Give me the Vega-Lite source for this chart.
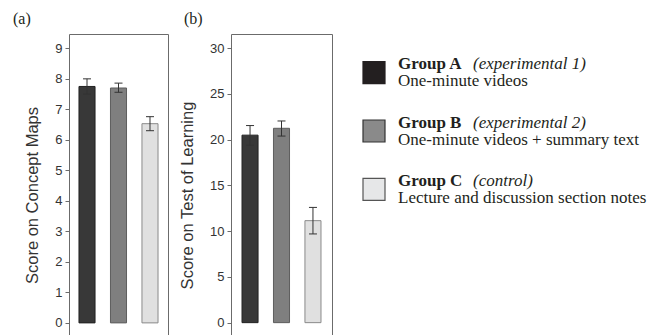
{
  "$schema": "https://vega.github.io/schema/vega-lite/v6.json",
  "padding": {"left": 12, "top": 10, "right": 5, "bottom": 0},
  "background": "white",
  "config": {
    "view": {"stroke": "#6b6b6b", "strokeWidth": 1},
    "axis": {
      "grid": false,
      "domain": false,
      "tickColor": "#6b6b6b",
      "tickSize": 4,
      "labelFont": "Liberation Sans",
      "labelFontSize": 13,
      "labelColor": "#333333",
      "labelPadding": 3,
      "titleFont": "Liberation Sans",
      "titleFontSize": 16.5,
      "titleFontWeight": "normal",
      "titleColor": "#333333"
    },
    "title": {
      "font": "Liberation Serif",
      "fontSize": 16,
      "fontWeight": "normal",
      "color": "#231f20",
      "anchor": "start",
      "frame": "group",
      "baseline": "alphabetic",
      "offset": 7
    }
  },
  "datasets": {
    "concept": [
      {"group": "A", "mean": 7.75, "lower": 7.5, "upper": 8.0},
      {"group": "B", "mean": 7.7, "lower": 7.56, "upper": 7.86},
      {"group": "C", "mean": 6.53, "lower": 6.3, "upper": 6.76}
    ],
    "test": [
      {"group": "A", "mean": 20.5, "lower": 19.4, "upper": 21.55},
      {"group": "B", "mean": 21.25, "lower": 20.4, "upper": 22.05},
      {"group": "C", "mean": 11.15, "lower": 9.7, "upper": 12.6}
    ],
    "groups": [
      {"group": "A", "name": "Group A", "cond": "(experimental 1)", "desc": "One-minute videos"},
      {"group": "B", "name": "Group B", "cond": "(experimental 2)", "desc": "One-minute videos + summary text"},
      {"group": "C", "name": "Group C", "cond": "(control)", "desc": "Lecture and discussion section notes"}
    ]
  },
  "bounds": "full",
  "spacing": 27,
  "resolve": {"scale": {"fill": "independent", "stroke": "independent"}},
  "hconcat": [
    {
      "bounds": "flush",
      "spacing": 63,
      "resolve": {"scale": {"fill": "independent", "stroke": "independent"}},
      "hconcat": [
        {
          "width": 99,
          "height": 302,
          "title": {"text": "(a)", "dx": -56},
          "data": {"name": "concept"},
          "encoding": {
            "x": {"field": "group", "type": "nominal", "axis": null, "scale": {"paddingInner": 0.49, "paddingOuter": 0.317}}
          },
          "layer": [
            {
              "mark": {"type": "bar", "strokeWidth": 1},
              "encoding": {
                "y": {"field": "mean", "type": "quantitative", "scale": {"domain": [-0.43, 9.47], "nice": false, "zero": false}, "axis": {"values": [0, 1, 2, 3, 4, 5, 6, 7, 8, 9], "title": "Score on Concept Maps", "titlePadding": 14, "titleY": 161}},
                "y2": {"datum": 0},
                "fill": {"field": "group", "type": "nominal", "scale": {"domain": ["A", "B", "C"], "range": ["#383838", "#7f7f7f", "#e0e0e0"]}, "legend": null},
                "stroke": {"field": "group", "type": "nominal", "scale": {"domain": ["A", "B", "C"], "range": ["#222222", "#5e5e5e", "#8a8a8a"]}, "legend": null}
              }
            },
            {
              "mark": {"type": "rule", "color": "#333333", "strokeWidth": 1},
              "encoding": {"y": {"field": "lower", "type": "quantitative", "axis": {"values": [0, 1, 2, 3, 4, 5, 6, 7, 8, 9], "title": "Score on Concept Maps", "titlePadding": 14, "titleY": 161}}, "y2": {"field": "upper"}}
            },
            {
              "mark": {"type": "tick", "color": "#333333", "size": 8, "thickness": 1, "opacity": 1},
              "encoding": {"y": {"field": "lower", "type": "quantitative", "axis": {"values": [0, 1, 2, 3, 4, 5, 6, 7, 8, 9], "title": "Score on Concept Maps", "titlePadding": 14, "titleY": 161}}}
            },
            {
              "mark": {"type": "tick", "color": "#333333", "size": 8, "thickness": 1, "opacity": 1},
              "encoding": {"y": {"field": "upper", "type": "quantitative", "axis": {"values": [0, 1, 2, 3, 4, 5, 6, 7, 8, 9], "title": "Score on Concept Maps", "titlePadding": 14, "titleY": 161}}}
            }
          ]
        },
        {
          "width": 101,
          "height": 302,
          "title": {"text": "(b)", "dx": -47},
          "data": {"name": "test"},
          "encoding": {
            "x": {"field": "group", "type": "nominal", "axis": null, "scale": {"paddingInner": 0.49, "paddingOuter": 0.35}}
          },
          "layer": [
            {
              "mark": {"type": "bar", "strokeWidth": 1},
              "encoding": {
                "y": {"field": "mean", "type": "quantitative", "scale": {"domain": [-1.46, 31.56], "nice": false, "zero": false}, "axis": {"values": [0, 5, 10, 15, 20, 25, 30], "title": "Score on Test of Learning", "titlePadding": 14, "titleY": 161}},
                "y2": {"datum": 0},
                "fill": {"field": "group", "type": "nominal", "scale": {"domain": ["A", "B", "C"], "range": ["#383838", "#7f7f7f", "#e0e0e0"]}, "legend": null},
                "stroke": {"field": "group", "type": "nominal", "scale": {"domain": ["A", "B", "C"], "range": ["#222222", "#5e5e5e", "#8a8a8a"]}, "legend": null}
              }
            },
            {
              "mark": {"type": "rule", "color": "#333333", "strokeWidth": 1},
              "encoding": {"y": {"field": "lower", "type": "quantitative", "axis": {"values": [0, 5, 10, 15, 20, 25, 30], "title": "Score on Test of Learning", "titlePadding": 14, "titleY": 161}}, "y2": {"field": "upper"}}
            },
            {
              "mark": {"type": "tick", "color": "#333333", "size": 8, "thickness": 1, "opacity": 1},
              "encoding": {"y": {"field": "lower", "type": "quantitative", "axis": {"values": [0, 5, 10, 15, 20, 25, 30], "title": "Score on Test of Learning", "titlePadding": 14, "titleY": 161}}}
            },
            {
              "mark": {"type": "tick", "color": "#333333", "size": 8, "thickness": 1, "opacity": 1},
              "encoding": {"y": {"field": "upper", "type": "quantitative", "axis": {"values": [0, 5, 10, 15, 20, 25, 30], "title": "Score on Test of Learning", "titlePadding": 14, "titleY": 161}}}
            }
          ]
        }
      ]
    },
    {
      "width": 22,
      "height": 194,
      "view": {"stroke": null},
      "data": {"name": "groups"},
      "encoding": {
        "y": {"field": "group", "type": "nominal", "axis": null, "scale": {"type": "point", "padding": 0.66}}
      },
      "layer": [
        {
          "mark": {"type": "square", "size": 484, "filled": true, "opacity": 1, "strokeWidth": 1.2},
          "encoding": {
            "fill": {"field": "group", "type": "nominal", "scale": {"domain": ["A", "B", "C"], "range": ["#231f20", "#8a8a8a", "#e6e7e8"]}, "legend": null},
            "stroke": {"field": "group", "type": "nominal", "scale": {"domain": ["A", "B", "C"], "range": ["#231f20", "#333333", "#555555"]}, "legend": null}
          }
        },
        {
          "mark": {"type": "text", "align": "left", "baseline": "alphabetic", "dx": 24, "dy": -3.5, "font": "Liberation Serif", "fontSize": 17, "fontWeight": "bold", "color": "#231f20"},
          "encoding": {"text": {"field": "name"}}
        },
        {
          "mark": {"type": "text", "align": "left", "baseline": "alphabetic", "dx": 99, "dy": -3.5, "font": "Liberation Serif", "fontSize": 17, "fontStyle": "italic", "color": "#231f20"},
          "encoding": {"text": {"field": "cond"}}
        },
        {
          "mark": {"type": "text", "align": "left", "baseline": "alphabetic", "dx": 24, "dy": 13.5, "font": "Liberation Serif", "fontSize": 17, "color": "#231f20"},
          "encoding": {"text": {"field": "desc"}}
        }
      ]
    }
  ]
}
